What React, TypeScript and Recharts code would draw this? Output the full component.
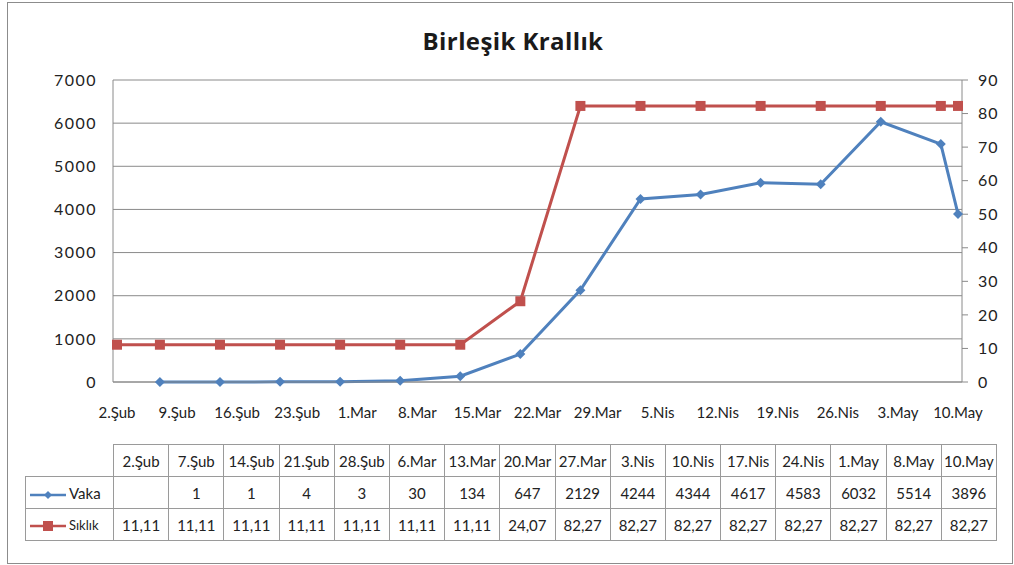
import { LineChart, Line, XAxis, YAxis, CartesianGrid } from 'recharts'

const categories = ['2.Şub', '7.Şub', '14.Şub', '21.Şub', '28.Şub', '6.Mar', '13.Mar', '20.Mar', '27.Mar', '3.Nis', '10.Nis', '17.Nis', '24.Nis', '1.May', '8.May', '10.May']
const categoryDates = ['2020-02-02', '2020-02-07', '2020-02-14', '2020-02-21', '2020-02-28', '2020-03-06', '2020-03-13', '2020-03-20', '2020-03-27', '2020-04-03', '2020-04-10', '2020-04-17', '2020-04-24', '2020-05-01', '2020-05-08', '2020-05-10']
const vaka: (number | null)[] = [null, 1, 1, 4, 3, 30, 134, 647, 2129, 4244, 4344, 4617, 4583, 6032, 5514, 3896]
const siklik = [11.11, 11.11, 11.11, 11.11, 11.11, 11.11, 11.11, 24.07, 82.27, 82.27, 82.27, 82.27, 82.27, 82.27, 82.27, 82.27]

const axisTickDates = ['2020-02-02', '2020-02-09', '2020-02-16', '2020-02-23', '2020-03-01', '2020-03-08', '2020-03-15', '2020-03-22', '2020-03-29', '2020-04-05', '2020-04-12', '2020-04-19', '2020-04-26', '2020-05-03', '2020-05-10']
const monthNames = ['Oca', 'Şub', 'Mar', 'Nis', 'May', 'Haz']
const leftTicks = [0, 1000, 2000, 3000, 4000, 5000, 6000, 7000]
const rightTicks = [0, 10, 20, 30, 40, 50, 60, 70, 80, 90]

const BLUE = '#4F81BD'
const RED = '#C0504D'
const GRID = '#8A8A8A'
const FONT = 'Lato, "Open Sans", sans-serif'

const toTime = (iso: string) => Date.parse(iso + 'T00:00:00Z')
const fmtDate = (t: number) => {
  const d = new Date(t)
  return `${d.getUTCDate()}.${monthNames[d.getUTCMonth()]}`
}
const fmtNum = (v: number) => v.toFixed(2).replace('.', ',')

const data = categoryDates.map((d, i) => ({
  t: toTime(d),
  vaka: vaka[i],
  siklik: siklik[i],
}))
const xTicks = axisTickDates.map(toTime)

const Diamond = (props: any) => {
  const { cx, cy, index } = props
  if (cx == null || cy == null) return <g key={`v-${index}`} />
  return (
    <polygon
      key={`v-${index}`}
      points={`${cx},${cy - 5} ${cx + 5},${cy} ${cx},${cy + 5} ${cx - 5},${cy}`}
      fill={BLUE}
    />
  )
}

const Square = (props: any) => {
  const { cx, cy, index } = props
  if (cx == null || cy == null) return <g key={`s-${index}`} />
  return <rect key={`s-${index}`} x={cx - 5} y={cy - 5} width={10} height={10} fill={RED} />
}

function LegendKey({ color, square }: { color: string; square?: boolean }) {
  return (
    <svg width={36} height={12} style={{ verticalAlign: 'middle', marginRight: 3 }}>
      <line x1={0} y1={6} x2={36} y2={6} stroke={color} strokeWidth={2.5} />
      {square ? (
        <rect x={13} y={1} width={10} height={10} fill={color} />
      ) : (
        <polygon points="18,2 22,6 18,10 14,6" fill={color} />
      )}
    </svg>
  )
}

const COL_W = 55.2
const LEG_W = 88

const cell: React.CSSProperties = {
  border: '1px solid #9A9A9A',
  textAlign: 'center',
  padding: 0,
  height: 31,
  whiteSpace: 'nowrap',
  overflow: 'hidden',
}

const axisTick = { fontSize: 15, fill: '#222', fontFamily: FONT }

export default function App() {
  return (
    <div style={{ position: 'absolute', left: 0, top: 0, width: 1014, height: 565, background: '#fff', fontFamily: FONT }}>
      <div style={{ position: 'absolute', left: 7, top: 2, width: 1004, height: 560, border: '1px solid #8C8C8C' }} />
      <div
        style={{
          position: 'absolute',
          left: 0,
          top: 24,
          width: 1026,
          textAlign: 'center',
          fontSize: 24,
          fontWeight: 700,
          letterSpacing: 0.4,
          color: '#1a1a1a',
          fontFamily: '"Open Sans", Lato, sans-serif',
        }}
      >
        Birleşik Krallık
      </div>
      <div style={{ position: 'absolute', left: 0, top: 0 }}>
        <LineChart width={1014} height={565} data={data} margin={{ top: 80, right: 12, bottom: 153, left: 53 }}>
          <CartesianGrid yAxisId="left" vertical={false} stroke={GRID} strokeWidth={1} />
          <XAxis
            dataKey="t"
            type="number"
            scale="linear"
            domain={[xTicks[0], xTicks[xTicks.length - 1]]}
            ticks={xTicks}
            tickFormatter={fmtDate}
            padding={{ left: 4, right: 4 }}
            height={30}
            axisLine={{ stroke: GRID }}
            tickLine={false}
            tickSize={6}
            tickMargin={19}
            interval={0}
            tick={axisTick}
          />
          <YAxis
            yAxisId="left"
            domain={[0, 7000]}
            ticks={leftTicks}
            width={60}
            axisLine={{ stroke: GRID }}
            tickLine={false}
            tickSize={6}
            tickMargin={10}
            tick={{ ...axisTick, fontSize: 16, letterSpacing: 1.5 }}
          />
          <YAxis
            yAxisId="right"
            orientation="right"
            domain={[0, 90]}
            ticks={rightTicks}
            width={40}
            axisLine={{ stroke: GRID }}
            tickLine={{ stroke: GRID }}
            tickSize={6}
            tickMargin={10}
            tick={{ ...axisTick, fontSize: 16, letterSpacing: 1 }}
          />
          <Line
            yAxisId="left"
            dataKey="vaka"
            stroke={BLUE}
            strokeWidth={3}
            dot={Diamond}
            activeDot={false}
            isAnimationActive={false}
          />
          <Line
            yAxisId="right"
            dataKey="siklik"
            stroke={RED}
            strokeWidth={3}
            dot={Square}
            activeDot={false}
            isAnimationActive={false}
          />
        </LineChart>
      </div>
      <table
        style={{
          position: 'absolute',
          left: 25,
          top: 444,
          width: LEG_W + COL_W * categories.length,
          borderCollapse: 'collapse',
          tableLayout: 'fixed',
          fontSize: 15,
          color: '#222',
          fontFamily: FONT,
        }}
      >
        <colgroup>
          <col style={{ width: LEG_W }} />
          {categories.map((c) => (
            <col key={c} style={{ width: COL_W }} />
          ))}
        </colgroup>
        <tbody>
          <tr>
            <td style={{ border: 'none', padding: 0 }} />
            {categories.map((c) => (
              <td key={c} style={cell}>{c}</td>
            ))}
          </tr>
          <tr>
            <td style={{ ...cell, textAlign: 'left', paddingLeft: 4 }}>
              <LegendKey color={BLUE} />Vaka
            </td>
            {vaka.map((v, i) => (
              <td key={i} style={cell}>{v == null ? '' : v}</td>
            ))}
          </tr>
          <tr>
            <td style={{ ...cell, textAlign: 'left', paddingLeft: 4, fontSize: 13 }}>
              <LegendKey color={RED} square />Sıklık
            </td>
            {siklik.map((v, i) => (
              <td key={i} style={cell}>{fmtNum(v)}</td>
            ))}
          </tr>
        </tbody>
      </table>
    </div>
  )
}
